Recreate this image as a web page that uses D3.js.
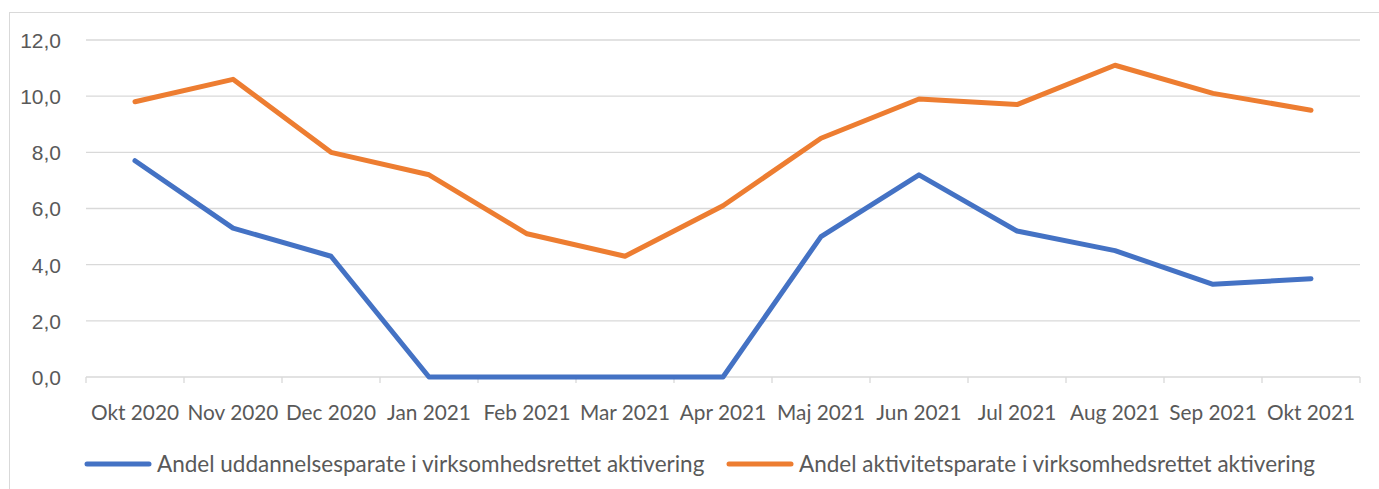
<!DOCTYPE html>
<html>
<head>
<meta charset="utf-8">
<script src="https://cdn.jsdelivr.net/npm/d3@7"></script>
<style>
  body { margin: 0; background: #fff; }
  svg { font-family: Lato, "Open Sans", sans-serif; }
  .tick text { fill: #595959; font-size: 21px; }
</style>
</head>
<body>
<svg></svg>
<script>
const w = 1379;
const h = 489;
const m = { top: 40, right: 19, bottom: 112, left: 86 };

// Data
const months = ["Okt 2020", "Nov 2020", "Dec 2020", "Jan 2021", "Feb 2021", "Mar 2021", "Apr 2021",
  "Maj 2021", "Jun 2021", "Jul 2021", "Aug 2021", "Sep 2021", "Okt 2021"];
const uddannelse = [7.7, 5.3, 4.3, 0, 0, 0, 0, 5.0, 7.2, 5.2, 4.5, 3.3, 3.5];
const aktivitet = [9.8, 10.6, 8.0, 7.2, 5.1, 4.3, 6.1, 8.5, 9.9, 9.7, 11.1, 10.1, 9.5];
const yTicks = [0, 2, 4, 6, 8, 10, 12];

const series = [
  { name: "Andel uddannelsesparate i virksomhedsrettet aktivering", values: uddannelse, color: "#4472c4" },
  { name: "Andel aktivitetsparate i virksomhedsrettet aktivering", values: aktivitet, color: "#ed7d31" }
];

const svg = d3.select("svg")
  .attr("width", w)
  .attr("height", h);

// chart border (left + top visible)
svg.append("rect")
  .attr("x", 9.5).attr("y", 12.5)
  .attr("width", w + 20).attr("height", h + 20)
  .attr("fill", "none")
  .attr("stroke", "#d9d9d9");

const x = d3.scaleBand()
  .domain(months)
  .range([m.left, w - m.right]);

const y = d3.scaleLinear()
  .domain([0, 12])
  .range([h - m.bottom, m.top]);

// grid
svg.append("g")
  .selectAll("line")
  .data(yTicks.filter(d => d > 0))
  .join("line")
  .attr("x1", m.left).attr("x2", w - m.right)
  .attr("y1", d => y(d)).attr("y2", d => y(d))
  .attr("stroke", "#d9d9d9")
  .attr("stroke-width", 1.3);

// y axis labels
const fmt = d => d3.format(".1f")(d).replace(".", ",");
svg.append("g")
  .attr("transform", `translate(${m.left - 22},0)`)
  .call(d3.axisLeft(y).tickValues(yTicks).tickFormat(fmt).tickSize(0))
  .call(g => g.select(".domain").remove())
  .call(g => g.selectAll("text").attr("dy", "0.35em"));

// x axis
const xAxis = svg.append("g")
  .attr("transform", `translate(0,${y(0)})`);
xAxis.append("line")
  .attr("x1", m.left).attr("x2", w - m.right)
  .attr("stroke", "#d9d9d9").attr("stroke-width", 1.3);
xAxis.selectAll(".tk")
  .data(months.concat([null]))
  .join("line")
  .attr("class", "tk")
  .attr("x1", (d, i) => m.left + i * x.step())
  .attr("x2", (d, i) => m.left + i * x.step())
  .attr("y1", 0).attr("y2", 6)
  .attr("stroke", "#d9d9d9").attr("stroke-width", 1.3);
xAxis.selectAll("text")
  .data(months)
  .join("text")
  .attr("x", d => x(d) + x.bandwidth() / 2)
  .attr("y", 43)
  .attr("text-anchor", "middle")
  .attr("fill", "#595959")
  .style("font-size", "20.8px")
  .text(d => d);

// lines
const line = d3.line()
  .x((d, i) => x(months[i]) + x.bandwidth() / 2)
  .y(d => y(d));

svg.append("g")
  .selectAll("path")
  .data(series)
  .join("path")
  .attr("d", d => line(d.values))
  .attr("fill", "none")
  .attr("stroke", d => d.color)
  .attr("stroke-width", 5)
  .attr("stroke-linejoin", "round")
  .attr("stroke-linecap", "round");

// legend
const legendX = [87, 729];
const legend = svg.append("g")
  .selectAll("g")
  .data(series)
  .join("g")
  .attr("transform", (d, i) => `translate(${legendX[i]},464)`);
legend.append("line")
  .attr("x1", 0).attr("x2", 62)
  .attr("stroke", d => d.color)
  .attr("stroke-width", 5)
  .attr("stroke-linecap", "round");
legend.append("text")
  .attr("x", 70)
  .attr("dy", "0.35em")
  .attr("fill", "#595959")
  .style("font-size", "22.5px")
  .text(d => d.name);
</script>
</body>
</html>
